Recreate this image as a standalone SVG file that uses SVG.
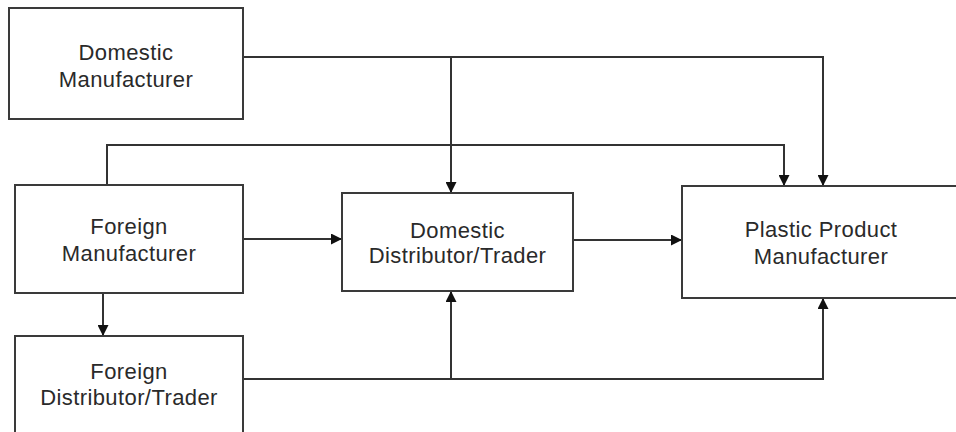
<svg xmlns="http://www.w3.org/2000/svg" width="956" height="432" viewBox="0 0 956 432">
<style>
.box{fill:#fff;stroke:#3a3a3a;stroke-width:2}
.lbl{font-family:"Liberation Sans",Arial,sans-serif;font-size:22px;letter-spacing:0.4px;fill:#2a2a2a;text-anchor:middle}
.ln{fill:none;stroke:#333;stroke-width:2}
</style>
<defs>
<marker id="ah" viewBox="0 0 10 10" refX="10" refY="5" markerWidth="11" markerHeight="11" markerUnits="userSpaceOnUse" orient="auto">
<path d="M0,0L10,5L0,10z" fill="#111"/>
</marker>
</defs>
<rect width="956" height="432" fill="#fff"/>
<g id="connectors">
<path class="ln" d="M243,57H823V186" marker-end="url(#ah)"/>
<path class="ln" d="M451,57V193" marker-end="url(#ah)"/>
<path class="ln" d="M107,185V145H784V186" marker-end="url(#ah)"/>
<path class="ln" d="M243,239H342" marker-end="url(#ah)"/>
<path class="ln" d="M573,240H682" marker-end="url(#ah)"/>
<path class="ln" d="M103,293V336" marker-end="url(#ah)"/>
<path class="ln" d="M243,379H823V298" marker-end="url(#ah)"/>
<path class="ln" d="M451,379V291" marker-end="url(#ah)"/>
</g>
<g id="domestic-manufacturer">
<rect class="box" x="9" y="8" width="234" height="111"/>
<text class="lbl" x="126" y="60">Domestic</text>
<text class="lbl" x="126" y="87">Manufacturer</text>
</g>
<g id="foreign-manufacturer">
<rect class="box" x="15" y="185" width="228" height="108"/>
<text class="lbl" x="129" y="234">Foreign</text>
<text class="lbl" x="129" y="261">Manufacturer</text>
</g>
<g id="foreign-distributor">
<rect class="box" x="15" y="336" width="228" height="110"/>
<text class="lbl" x="129" y="379">Foreign</text>
<text class="lbl" x="129" y="405">Distributor/Trader</text>
</g>
<g id="domestic-distributor">
<rect class="box" x="342" y="193" width="231" height="98"/>
<text class="lbl" x="457.5" y="238">Domestic</text>
<text class="lbl" x="457.5" y="263">Distributor/Trader</text>
</g>
<g id="plastic-product-manufacturer">
<rect class="box" x="682" y="186" width="290" height="112"/>
<text class="lbl" x="821" y="237">Plastic Product</text>
<text class="lbl" x="821" y="264">Manufacturer</text>
</g>
</svg>
